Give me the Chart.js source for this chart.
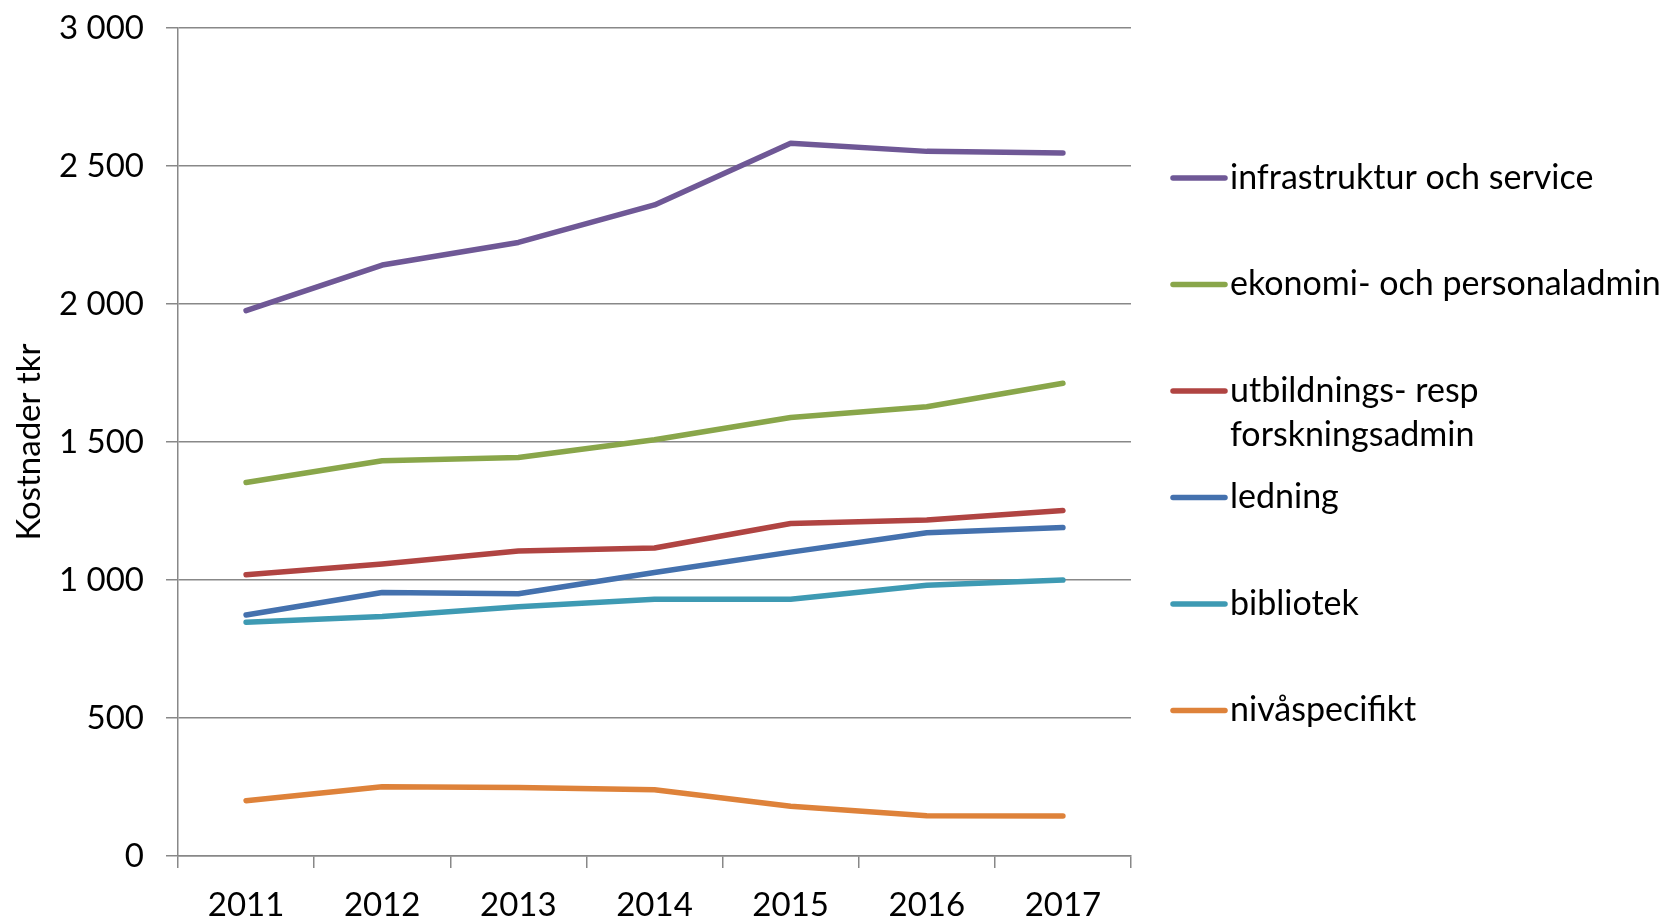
<!DOCTYPE html>
<html>
<head>
<meta charset="utf-8">
<title>Kostnader tkr 2011–2017</title>
<script src="https://cdn.jsdelivr.net/npm/chart.js@4/dist/chart.umd.min.js"></script>
<style>
  html, body { margin: 0; padding: 0; background: #fff; }
  canvas { display: block; }
</style>
</head>
<body>
<canvas id="myChart" width="1677" height="918"></canvas>
<script>
// Years on the x axis
const years = ["2011", "2012", "2013", "2014", "2015", "2016", "2017"];

// Series names (legend order)
const seriesNames = [
  "infrastruktur och service",
  "ekonomi- och personaladmin",
  "utbildnings- resp forskningsadmin",
  "ledning",
  "bibliotek",
  "nivåspecifikt",
];

// Costs per year, tkr
const infrastruktur = [1976, 2141, 2223, 2359, 2582, 2553, 2547];
const ekonomi = [1353, 1432, 1444, 1508, 1589, 1628, 1713];
const utbildning = [1019, 1058, 1105, 1116, 1205, 1217, 1252];
const ledning = [873, 955, 950, 1027, 1101, 1171, 1190];
const bibliotek = [847, 868, 903, 930, 930, 981, 1000];
const nivaspecifikt = [200, 251, 248, 240, 180, 146, 145];

const seriesColors = ["#6F5896", "#89A64A", "#B04442", "#4471AE", "#3E9AB3", "#DE823A"];

// y axis range
const yMin = 0;
const yMax = 3000;
const yStep = 500;

const FONT = "Lato, 'Open Sans', sans-serif";
const gridGrey = "#888888";
const lineW = 5.5;

function formatThousands(v) {
  return String(v).replace(/\B(?=(\d{3})+(?!\d))/g, " ");
}

// Legend drawn to the right of the plot, line swatch + wrapped text
const sideLegend = {
  id: "sideLegend",
  afterDraw(chart) {
    const ctx = chart.ctx;
    const x0 = chart.chartArea.right + 42;
    const swatchLen = 52;
    const textX = x0 + swatchLen + 5;
    const maxWidth = chart.width - textX - 4;
    const top = 178;
    const step = 106.5;
    const lineH = 44;
    ctx.save();
    ctx.font = "34px " + FONT;
    ctx.textBaseline = "middle";
    ctx.fillStyle = "#000";
    chart.data.datasets.forEach((ds, i) => {
      const y = top + i * step;
      ctx.strokeStyle = ds.borderColor;
      ctx.lineWidth = lineW;
      ctx.lineCap = "round";
      ctx.beginPath();
      ctx.moveTo(x0, y);
      ctx.lineTo(x0 + swatchLen, y);
      ctx.stroke();

      // simple word wrap
      const words = ds.label.split(" ");
      const lines = [];
      let cur = "";
      words.forEach((w) => {
        const test = cur ? cur + " " + w : w;
        if (cur && ctx.measureText(test).width > maxWidth) {
          lines.push(cur);
          cur = w;
        } else {
          cur = test;
        }
      });
      lines.push(cur);
      lines.forEach((ln, j) => {
        ctx.fillText(ln, textX, y + j * lineH);
      });
    });
    ctx.restore();
  },
};

const allSeries = [infrastruktur, ekonomi, utbildning, ledning, bibliotek, nivaspecifikt];

const ctx = document.querySelector("#myChart").getContext("2d");
const myChart = new Chart(ctx, {
  type: "line",
  data: {
    labels: years,
    datasets: allSeries.map((values, i) => ({
      label: seriesNames[i],
      data: values,
      borderColor: seriesColors[i],
      backgroundColor: seriesColors[i],
      borderWidth: lineW,
      pointRadius: 0,
      tension: 0,
      borderCapStyle: "round",
      borderJoinStyle: "round",
    })),
  },
  options: {
    responsive: false,
    animation: false,
    layout: {
      padding: { top: 28, right: 546, bottom: 0, left: 0 },
    },
    plugins: {
      legend: { display: false },
      tooltip: { enabled: false },
    },
    scales: {
      x: {
        offset: true,
        grid: {
          offset: true,
          drawOnChartArea: false,
          drawTicks: true,
          tickLength: 12,
          color: gridGrey,
          lineWidth: 1.5,
        },
        border: { color: gridGrey, width: 1.5 },
        ticks: {
          color: "#000",
          padding: 18,
          font: { family: FONT, size: 33 },
        },
        afterFit(scale) {
          scale.height = 62;
        },
      },
      y: {
        min: yMin,
        max: yMax,
        ticks: {
          stepSize: yStep,
          color: "#000",
          padding: 22,
          font: { family: FONT, size: 33 },
          callback: (value) => formatThousands(value),
        },
        grid: {
          color: gridGrey,
          lineWidth: 1.5,
          tickLength: 12,
        },
        border: { color: gridGrey, width: 1.5 },
        title: {
          display: true,
          text: "Kostnader tkr",
          color: "#000",
          font: { family: FONT, size: 33 },
          padding: { top: 10, bottom: 0 },
        },
        afterFit(scale) {
          scale.width = 178;
          // keep the plot top fixed by the layout padding only
          scale.paddingTop = 0;
          scale.paddingBottom = 0;
        },
      },
    },
  },
  plugins: [sideLegend],
});
</script>
</body>
</html>
